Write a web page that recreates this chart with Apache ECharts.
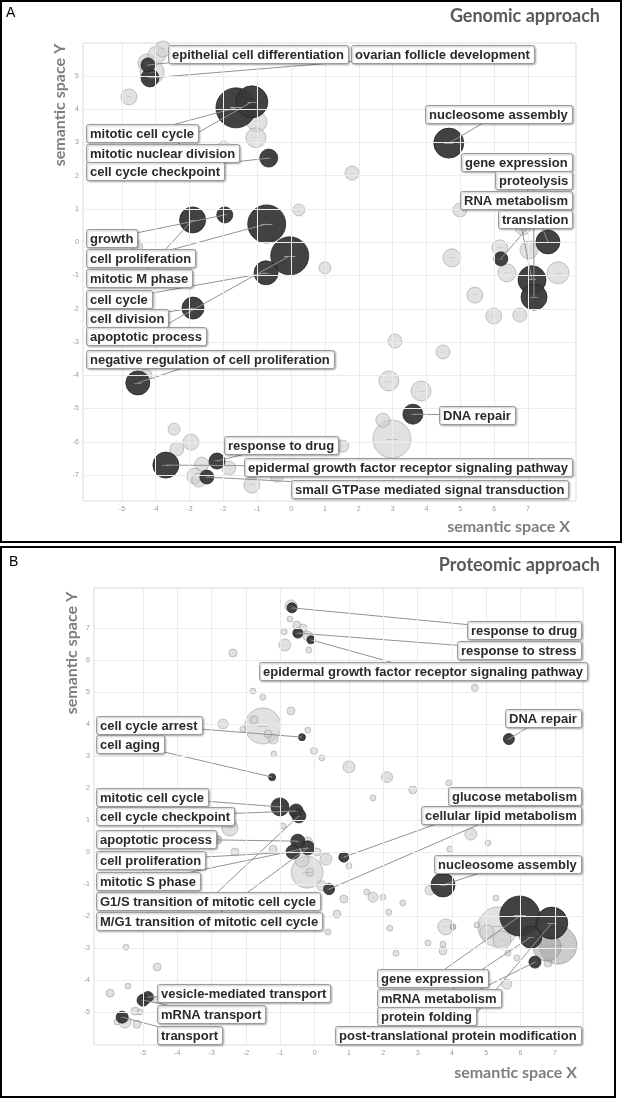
<!DOCTYPE html>
<html><head><meta charset="utf-8">
<script src="https://cdn.jsdelivr.net/npm/echarts@6/dist/echarts.min.js"></script>
<style>html,body{margin:0;padding:0;background:#fff}#c{width:625px;height:1100px}</style>
</head><body><div id="c"></div>
<script>
// ---------- Panel A: Genomic approach ----------
// bubble type: 0 = light (not significant), 1 = dark (highlighted), 2 = medium
const aX = [-4.26,-3.97,-3.79,-4.11,-4.23,-4.17,-4.79,-1.63,-1.16,-1.01,-1.04,-1.99,-0.66,1.80,0.23,-2.91,-1.96,-0.72,-0.04,-4.56,-0.74,-2.90,-4.29,-4.53,-3.46,-2.96,-3.38,-3.70,-2.19,-2.64,-1.84,-2.84,-2.73,-2.49,-1.16,-0.42,1.00,1.53,3.07,4.49,2.89,3.84,3.60,2.71,2.98,4.66,4.99,4.75,6.17,6.20,7.03,7.59,6.38,7.12,7.18,7.89,5.43,5.99,6.76,6.85];
const aY = [5.39,5.63,5.81,5.12,5.33,4.94,4.37,4.04,4.22,3.62,3.14,2.86,2.53,2.08,0.97,0.67,0.82,0.55,-0.41,-0.14,-0.92,-1.98,-3.99,-4.23,-5.62,-6.01,-6.22,-6.70,-6.58,-6.67,-6.79,-7.03,-7.15,-7.06,-7.30,-7.00,-0.77,-6.13,-2.97,-3.30,-4.17,-4.47,-5.17,-5.35,-5.92,2.98,0.97,-0.47,-0.17,-0.50,-0.23,0.01,-0.92,-1.13,-1.65,-0.92,-1.59,-2.22,-2.19,0.46];
const aSize = [1.4,1.4,1.2,2.0,1.0,1.4,1.2,3.6,2.8,1.6,1.6,0.8,1.4,1.0,0.8,2.2,1.2,3.4,3.4,0.8,2.0,1.8,0.8,2.0,0.8,1.2,1.0,2.2,1.2,1.0,1.0,1.2,1.0,1.0,1.2,1.0,0.8,0.8,1.0,1.0,1.6,1.6,1.6,1.0,3.4,2.6,1.0,1.4,1.2,1.0,1.4,2.0,1.4,2.4,2.2,1.8,1.2,1.2,1.0,1.2];
const aType = [0,0,0,0,1,1,0,1,1,0,0,0,1,0,0,1,1,1,1,0,1,1,0,1,0,0,0,1,1,0,0,0,0,1,0,0,0,0,0,0,0,0,1,0,0,1,0,0,0,1,0,1,0,1,1,0,0,0,0,0];
const aLabText = ['epithelial cell differentiation','ovarian follicle development','mitotic cell cycle','mitotic nuclear division','cell cycle checkpoint','growth','cell proliferation','mitotic M phase','cell cycle','cell division','apoptotic process','negative regulation of cell proliferation','response to drug','epidermal growth factor receptor signaling pathway','small GTPase mediated signal transduction','nucleosome assembly','gene expression','proteolysis','RNA metabolism','translation','DNA repair'];
const aLabSide = ['L','L','L','L','L','L','L','L','L','L','L','L','L','R','R','R','R','R','R','R','L'];
const aLabX = [-3.64,1.77,-6.07,-6.07,-6.07,-6.07,-6.07,-6.07,-6.07,-6.07,-6.07,-6.07,-1.99,8.30,8.18,8.30,8.30,8.30,8.30,8.30,4.37];
const aLabY = [5.66,5.66,3.27,2.67,2.13,0.13,-0.47,-1.08,-1.71,-2.28,-2.83,-3.50,-6.11,-6.77,-7.41,3.86,2.41,1.86,1.27,0.70,-5.20];
const aLabTarget = [4,5,7,8,12,16,17,15,20,21,18,23,28,27,33,45,51,54,53,49,42];
const aXTicks = [-5,-4,-3,-2,-1,0,1,2,3,4,5,6,7];
const aYTicks = [-7,-6,-5,-4,-3,-2,-1,0,1,2,3,4,5];
const aXRange = [-6.15, 8.42];
const aYRange = [-7.78, 5.99];

// ---------- Panel B: Proteomic approach ----------
const bX = [-0.69,-0.66,-0.72,-0.52,-0.89,-0.49,-0.34,-0.20,-0.11,-0.87,-0.17,-2.38,-1.80,-1.51,-0.69,-1.51,-1.77,-2.67,-2.09,-1.36,-1.21,-0.37,-0.20,-0.02,0.21,-1.19,-1.24,1.00,2.11,2.86,3.91,1.70,4.67,5.66,-1.01,-0.54,-0.46,-0.92,-2.47,-2.82,-2.32,-1.21,-0.49,-0.22,-0.20,-0.63,0.07,-0.37,0.33,-0.22,-0.14,0.85,1.00,0.21,0.42,0.85,1.52,1.70,1.99,2.57,2.16,0.65,2.19,0.39,4.55,5.05,3.94,3.74,3.36,3.82,4.03,3.30,3.74,3.74,2.37,5.28,4.73,5.60,5.34,7.09,6.77,5.02,5.46,5.98,6.91,6.30,6.42,6.80,5.89,5.63,-5.50,-4.59,-5.44,-5.96,-5.00,-4.86,-4.62,-5.23,-5.09,-5.61,-5.53,-5.76,-5.18];
const bY = [7.69,7.63,7.28,7.09,6.88,6.84,7.00,6.75,6.63,6.47,6.31,6.22,5.03,4.84,4.41,3.94,4.13,4.00,3.84,3.69,3.53,3.59,3.81,3.16,2.94,3.06,2.34,2.66,2.34,1.94,2.16,1.69,5.13,3.53,1.41,1.28,1.13,0.81,0.75,0.38,0.00,0.09,0.34,0.28,0.13,0.00,0.00,-0.25,-0.22,-0.63,-0.63,-0.16,-0.44,-1.06,-1.16,-1.47,-1.25,-1.41,-1.41,-1.59,-1.88,-1.94,-2.38,-2.50,0.56,0.28,0.09,-1.03,-1.19,-2.34,-2.34,-2.84,-2.88,-3.09,-3.16,-1.44,-2.28,-4.13,-2.34,-2.91,-2.97,-2.50,-2.75,-2.00,-2.22,-2.66,-3.44,-3.47,-3.31,-3.16,-2.97,-3.59,-4.19,-4.41,-4.63,-4.53,-4.63,-4.97,-5.00,-5.16,-5.31,-5.31,-5.38];
const bSize = [0.8,0.6,0.2,0.4,0.2,0.6,0.4,0.6,0.4,0.8,0.2,0.4,0.2,0.2,0.4,3.2,0.4,0.6,0.2,0.4,0.6,0.3,0.2,0.3,0.2,0.2,0.3,0.8,0.7,0.4,0.2,0.2,0.3,0.7,1.4,1.0,1.0,0.2,1.2,0.4,0.4,0.4,1.0,0.8,1.0,1.0,0.4,1.0,0.8,2.8,0.4,0.6,0.2,0.6,0.7,0.4,0.2,0.6,0.2,0.2,0.2,0.4,0.2,0.2,0.8,0.2,0.2,2.0,0.6,1.2,0.2,0.2,0.2,0.4,0.2,0.2,0.2,0.6,3.6,3.4,2.4,1.0,1.4,3.6,2.8,1.8,0.8,0.4,0.2,0.2,0.2,0.4,0.2,0.4,0.8,0.7,0.2,0.4,0.2,0.8,0.8,0.2,0.4];
const bType = [0,1,0,0,0,1,0,0,1,0,0,0,0,0,0,0,0,0,0,0,0,1,0,0,0,0,1,0,0,0,0,0,0,1,1,1,1,0,0,2,0,0,1,0,1,1,0,0,0,0,0,1,0,0,1,0,0,0,0,0,0,0,0,0,0,0,0,1,0,0,2,0,0,0,0,0,0,0,0,2,2,0,0,1,1,1,1,0,0,0,0,0,0,0,1,1,0,0,0,1,0,0,0];
const bLabText = ['response to drug','response to stress','epidermal growth factor receptor signaling pathway','DNA repair','cell cycle arrest','cell aging','mitotic cell cycle','cell cycle checkpoint','glucose metabolism','cellular lipid metabolism','apoptotic process','cell proliferation','nucleosome assembly','mitotic S phase','G1/S transition of mitotic cell cycle','M/G1 transition of mitotic cell cycle','gene expression','mRNA metabolism','protein folding','post-translational protein modification','vesicle-mediated transport','mRNA transport','transport'];
const bLabSide = ['R','R','L','R','L','L','L','L','R','R','L','L','R','L','L','L','L','L','L','R','L','L','L'];
const bLabX = [7.76,7.76,-1.62,7.76,-6.37,-6.37,-6.37,-6.37,7.76,7.76,-6.37,-6.37,7.76,-6.37,-6.37,-6.37,1.81,1.81,1.81,7.76,-4.59,-4.59,-4.59];
const bLabY = [6.94,6.31,5.67,4.19,3.98,3.36,1.72,1.13,1.75,1.16,0.41,-0.25,-0.36,-0.91,-1.52,-2.14,-3.95,-4.55,-5.13,-5.72,-4.42,-5.06,-5.72];
const bLabTarget = [1,5,8,33,21,26,34,35,51,54,42,45,67,44,36,44,83,85,86,84,95,94,99];
const bXTicks = [-5,-4,-3,-2,-1,0,1,2,3,4,5,6,7];
const bYTicks = [-5,-4,-3,-2,-1,0,1,2,3,4,5,6,7];
const bXRange = [-6.43, 7.82];
const bYRange = [-6.03, 8.25];

// ---------- rendering ----------
const A = {x:aX,y:aY,s:aSize,t:aType,labText:aLabText,labSide:aLabSide,labX:aLabX,labY:aLabY,labTarget:aLabTarget};
const B = {x:bX,y:bY,s:bSize,t:bType,labText:bLabText,labSide:bLabSide,labX:bLabX,labY:bLabY,labTarget:bLabTarget};

const LF = {size:13, weight:'bold', family:'"Liberation Sans", Arial, sans-serif'};
const mctx = document.createElement('canvas').getContext('2d');
function textW(t){ mctx.font = LF.weight+' '+LF.size+'px '+LF.family; return mctx.measureText(t).width; }
function boxOf(api, side, x, y, text){
  const p = api.coord([x,y]);
  const w = Math.round(textW(text) + 8), h = 18;
  const x0 = side === 'L' ? p[0] : p[0] - w;
  return {x: Math.round(x0), y: Math.round(p[1] - h/2), w, h};
}
const diam = s => 4 + 10*s;
const STY = {
  0: {color:'#cfcfcf', opacity:0.62, borderColor:'#8f8f8f', borderWidth:0.8},
  2: {color:'#a9a9a9', opacity:0.6, borderColor:'#7a7a7a', borderWidth:0.8},
  1: {color:'#383838', opacity:0.95, borderColor:'#222', borderWidth:0.8}
};
const rank = {0:0, 2:1, 1:2};

function bubbleSeries(P, gi){
  const idx = P.x.map((_,i)=>i).sort((a,b)=> (rank[P.t[a]]-rank[P.t[b]]) || (P.s[b]-P.s[a]));
  return {
    type:'scatter', xAxisIndex:gi, yAxisIndex:gi, z:2, silent:true,
    symbolSize: v => diam(v[2]),
    data: idx.map(i => ({
      value:[P.x[i], P.y[i], P.s[i], P.t[i]],
      itemStyle: STY[P.t[i]],
      label: {show: diam(P.s[i]) >= 9, position:'inside', formatter:'\u2014',
        fontSize: Math.max(3, diam(P.s[i])*0.3), color: P.t[i]===1 ? '#bdbdbd' : '#9a9a9a'}
    }))
  };
}
function gridLineSeries(xt, yt, gi){
  return {
    type:'scatter', xAxisIndex:gi, yAxisIndex:gi, z:1, silent:true, data:[],
    markLine:{silent:true, symbol:['none','none'], label:{show:false}, animation:false,
      lineStyle:{color:'#ececec', width:1, type:'solid'},
      data: xt.map(v=>({xAxis:v})).concat(yt.map(v=>({yAxis:v})))}
  };
}
function labelData(P){ return P.labText.map((t,i)=>[P.labX[i], P.labY[i], P.x[P.labTarget[i]], P.y[P.labTarget[i]]]); }
function connectorSeries(P, gi){
  return {type:'custom', xAxisIndex:gi, yAxisIndex:gi, zlevel:0, z:3, silent:true, clip:false,
    data: labelData(P),
    renderItem:(params, api)=>{
      const i = params.dataIndex;
      const b = boxOf(api, P.labSide[i], api.value(0), api.value(1), P.labText[i]);
      const q = api.coord([api.value(2), api.value(3)]);
      return {type:'line', shape:{x1:q[0], y1:q[1], x2:b.x+b.w/2, y2:b.y+b.h/2},
        style:{stroke:'#939393', lineWidth:1}};
    }};
}
function labelSeries(P, gi){
  return {type:'custom', xAxisIndex:gi, yAxisIndex:gi, zlevel:1, z:4, silent:true, clip:false,
    data: labelData(P),
    renderItem:(params, api)=>{
      const i = params.dataIndex;
      const b = boxOf(api, P.labSide[i], api.value(0), api.value(1), P.labText[i]);
      return {type:'group', children:[
        {type:'rect', shape:{x:b.x+0.5, y:b.y+0.5, width:b.w, height:b.h, r:2},
          style:{fill:'#fff', stroke:'#9c9c9c', lineWidth:1, shadowBlur:2, shadowOffsetX:1, shadowOffsetY:1, shadowColor:'rgba(0,0,0,0.3)'}},
        {type:'text', z2:1, style:{text:P.labText[i], x:b.x+4, y:b.y+b.h/2+1, align:'left', verticalAlign:'middle',
          fontSize:LF.size, fontWeight:LF.weight, fontFamily:LF.family, fill:'#2a2a2a'}}
      ]};
    }};
}
function xAxisCfg(gi, range, ticks){
  return {gridIndex:gi, type:'value', min:range[0], max:range[1],
    axisLine:{show:false}, splitLine:{show:false},
    axisTick:{show:true, customValues:ticks, length:2, lineStyle:{color:'#b5b5b5'}},
    axisLabel:{customValues:ticks, fontSize:7, color:'#9a9a9a', margin:5}};
}
function yAxisCfg(gi, range, ticks){
  return {gridIndex:gi, type:'value', min:range[0], max:range[1],
    axisLine:{show:false}, splitLine:{show:false},
    axisTick:{show:true, customValues:ticks, length:2, lineStyle:{color:'#b5b5b5'}},
    axisLabel:{customValues:ticks, fontSize:7, color:'#9a9a9a', margin:4}};
}

const TITLE_FONT = 'Lato, "Open Sans", sans-serif';
const chart = echarts.init(document.getElementById('c'), null, {renderer:'canvas'});
chart.setOption({
  animation:false,
  backgroundColor:'#fff',
  grid:[
    {left:83, top:43, width:493, height:458, show:true, borderColor:'#dcdcdc', borderWidth:1},
    {left:94, top:588, width:489, height:457, show:true, borderColor:'#dcdcdc', borderWidth:1}
  ],
  xAxis:[xAxisCfg(0, aXRange, aXTicks), xAxisCfg(1, bXRange, bXTicks)],
  yAxis:[yAxisCfg(0, aYRange, aYTicks), yAxisCfg(1, bYRange, bYTicks)],
  series:[
    gridLineSeries(aXTicks, aYTicks, 0), bubbleSeries(A, 0), connectorSeries(A, 0), labelSeries(A, 0),
    gridLineSeries(bXTicks, bYTicks, 1), bubbleSeries(B, 1), connectorSeries(B, 1), labelSeries(B, 1)
  ],
  graphic:[
    {type:'rect', zlevel:1, shape:{x:1, y:1, width:620, height:541}, style:{fill:'none', stroke:'#000', lineWidth:2}, z:10},
    {type:'rect', zlevel:1, shape:{x:1, y:547, width:614, height:550}, style:{fill:'none', stroke:'#000', lineWidth:2}, z:10},
    {type:'text', left:6, top:6, style:{text:'A', fontSize:14, fontFamily:'"Liberation Sans", Arial', fill:'#000'}},
    {type:'text', left:9, top:555, style:{text:'B', fontSize:14, fontFamily:'"Liberation Sans", Arial', fill:'#000'}},
    {type:'text', x:600, y:16, style:{text:'Genomic approach', align:'right', verticalAlign:'middle', fontSize:18, fontWeight:'bold', fontFamily:TITLE_FONT, fill:'#595959'}},
    {type:'text', x:600, y:565, style:{text:'Proteomic approach', align:'right', verticalAlign:'middle', fontSize:18, fontWeight:'bold', fontFamily:TITLE_FONT, fill:'#595959'}},
    {type:'text', x:60, y:105, rotation:Math.PI/2, style:{text:'semantic space Y', align:'center', verticalAlign:'middle', fontSize:16, fontWeight:'bold', fontFamily:TITLE_FONT, fill:'#7f7f7f'}},
    {type:'text', x:72, y:653, rotation:Math.PI/2, style:{text:'semantic space Y', align:'center', verticalAlign:'middle', fontSize:16, fontWeight:'bold', fontFamily:TITLE_FONT, fill:'#7f7f7f'}},
    {type:'text', x:570, y:527, style:{text:'semantic space X', align:'right', verticalAlign:'middle', fontSize:16, fontWeight:'bold', fontFamily:TITLE_FONT, fill:'#7f7f7f'}},
    {type:'text', x:577, y:1073, style:{text:'semantic space X', align:'right', verticalAlign:'middle', fontSize:16, fontWeight:'bold', fontFamily:TITLE_FONT, fill:'#7f7f7f'}}
  ]
});
</script></body></html>
